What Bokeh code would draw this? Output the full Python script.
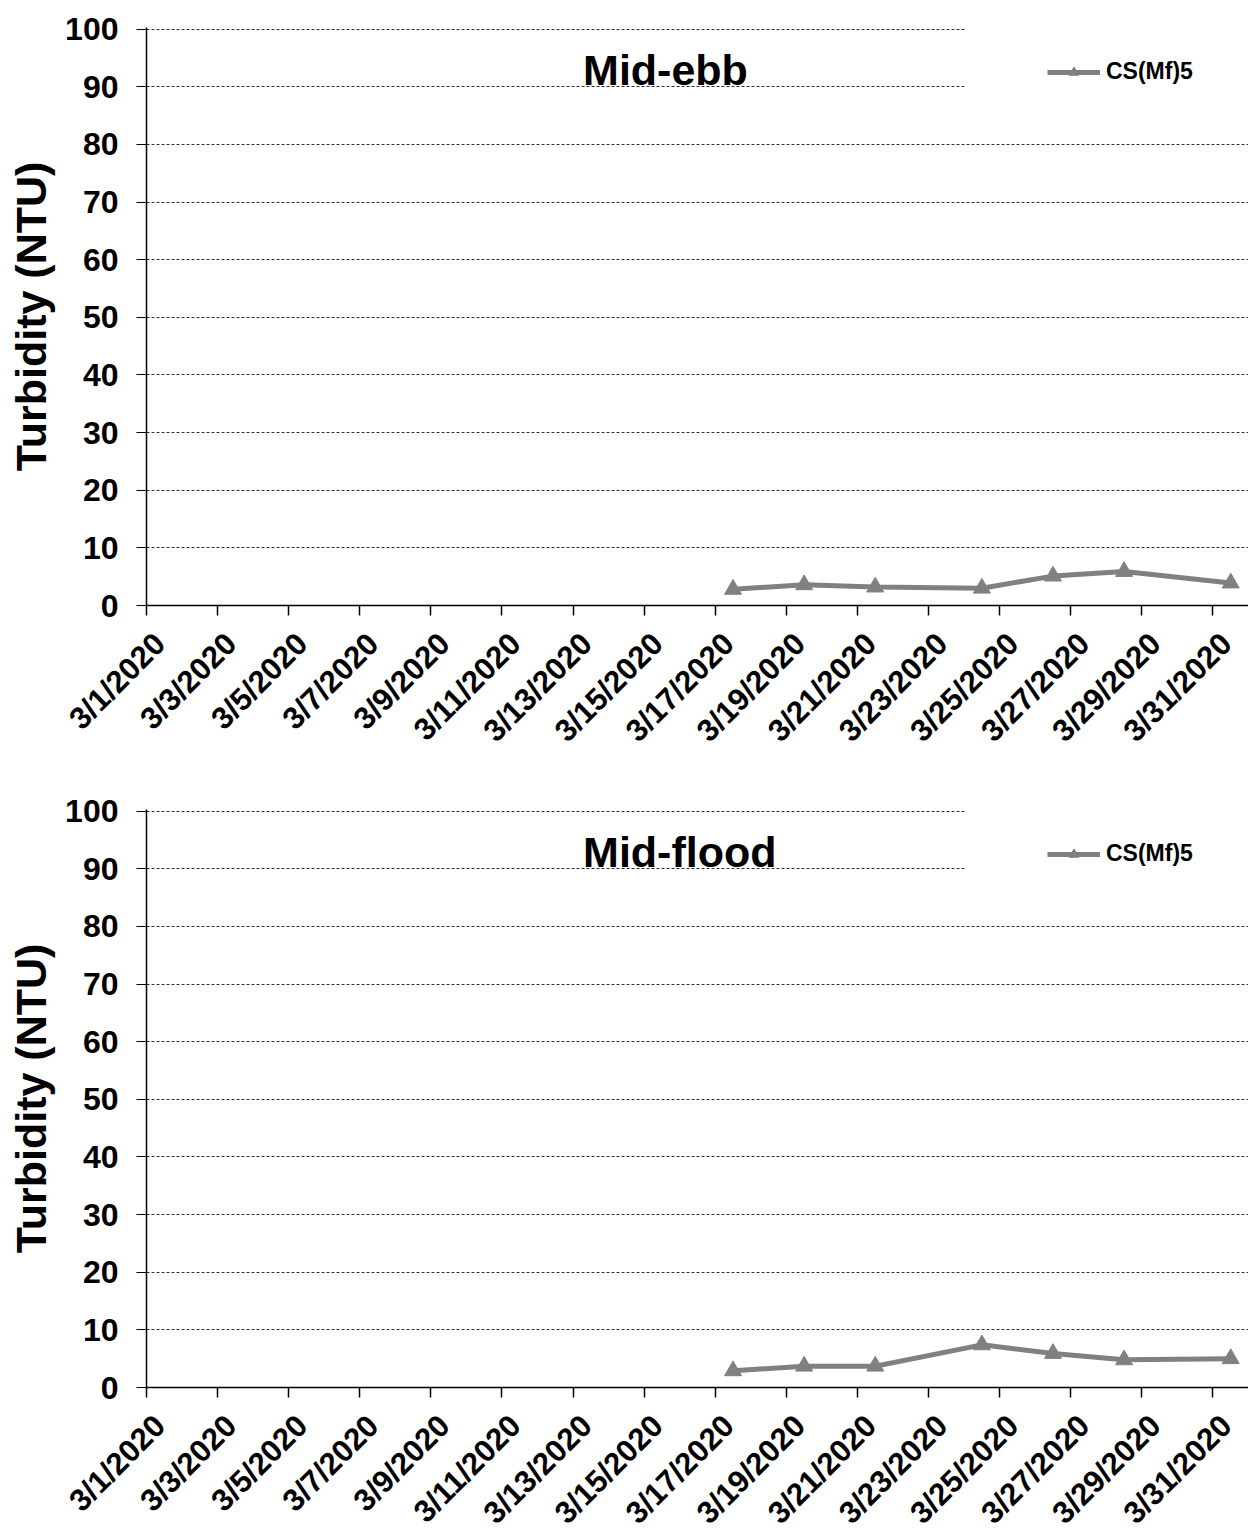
import pandas as pd
from math import pi
from bokeh.plotting import figure
from bokeh.layouts import column
from bokeh.models import (Legend, LegendItem, FixedTicker, DatetimeTickFormatter,
                          Range1d, BoxAnnotation, Label)
from bokeh.embed import file_html
from bokeh.resources import INLINE

# ---------------- data ----------------
sample_times = ["2020-03-17 12:00", "2020-03-19 12:00", "2020-03-21 12:00",
                "2020-03-24 12:00", "2020-03-26 12:00", "2020-03-28 12:00",
                "2020-03-31 12:00"]
mid_ebb = [2.8, 3.6, 3.2, 3.0, 5.1, 5.9, 3.9]
mid_flood = [2.9, 3.7, 3.7, 7.4, 5.9, 4.8, 5.0]
series_name = "CS(Mf)5"
panel_titles = ["Mid-ebb", "Mid-flood"]
tick_dates = ["2020-03-01", "2020-03-03", "2020-03-05", "2020-03-07",
              "2020-03-09", "2020-03-11", "2020-03-13", "2020-03-15",
              "2020-03-17", "2020-03-19", "2020-03-21", "2020-03-23",
              "2020-03-25", "2020-03-27", "2020-03-29", "2020-03-31"]
y_ticks = [0, 10, 20, 30, 40, 50, 60, 70, 80, 90, 100]
y_label = "Turbidity (NTU)"

FONT = "Liberation Sans"
GREY = "#808080"
HOUR = 3600000.0
DAY = 24 * HOUR


def ms(s):
    return pd.Timestamp(s).timestamp() * 1000.0


x_vals = pd.to_datetime(sample_times)
x_start = ms(tick_dates[0])
x_end = ms(tick_dates[-1]) + DAY
fmt = "%-m/%-d/%Y"


def date_formatter():
    return DatetimeTickFormatter(
        microseconds=fmt, milliseconds=fmt, seconds=fmt, minsec=fmt,
        minutes=fmt, hourmin=fmt, hours=fmt, days=fmt, months=fmt, years=fmt)


def make_panel(title, values, bottom_border):
    p = figure(x_axis_type="datetime", frame_width=1102, frame_height=578,
               min_border_left=146, min_border_right=0,
               min_border_top=27, min_border_bottom=bottom_border,
               x_range=Range1d(x_start, x_end), y_range=Range1d(0, 100.3),
               output_backend="svg", toolbar_location=None)
    p.outline_line_color = None
    p.background_fill_color = "white"
    p.border_fill_color = "white"

    # grid
    p.xgrid.visible = False
    p.ygrid.grid_line_color = "#303030"
    p.ygrid.grid_line_dash = "3 2"
    p.ygrid.grid_line_width = 1

    # y axis
    p.yaxis.ticker = FixedTicker(ticks=y_ticks)
    p.yaxis.axis_line_color = "black"
    p.yaxis.axis_line_width = 1.5
    p.yaxis.major_tick_out = 10
    p.yaxis.major_tick_in = 0
    p.yaxis.major_tick_line_color = "black"
    p.yaxis.minor_tick_line_color = None
    p.yaxis.major_label_text_font = FONT
    p.yaxis.major_label_text_font_style = "bold"
    p.yaxis.major_label_text_font_size = "32px"
    p.yaxis.major_label_text_color = "black"
    p.yaxis.major_label_standoff = 18
    p.yaxis.axis_label = y_label
    p.yaxis.axis_label_text_font = FONT
    p.yaxis.axis_label_text_font_style = "bold"
    p.yaxis.axis_label_text_font_size = "43px"
    p.yaxis.axis_label_text_color = "black"
    p.yaxis.axis_label_standoff = 7

    # x axis: tick marks at the dates (minor ticks), slanted date labels
    # anchored a little to the right of each tick mark
    p.xaxis.ticker = FixedTicker(
        ticks=[ms(d) + 9 * HOUR for d in tick_dates],
        minor_ticks=[ms(d) for d in tick_dates])
    p.xaxis.formatter = date_formatter()
    p.xaxis.axis_line_color = "black"
    p.xaxis.axis_line_width = 1.5
    p.xaxis.major_tick_line_color = None
    p.xaxis.major_tick_out = 0
    p.xaxis.major_tick_in = 0
    p.xaxis.minor_tick_line_color = "black"
    p.xaxis.minor_tick_line_width = 1.5
    p.xaxis.minor_tick_out = 10
    p.xaxis.minor_tick_in = 0
    p.xaxis.major_label_orientation = pi / 4
    p.xaxis.major_label_standoff = 23
    p.xaxis.major_label_text_font = FONT
    p.xaxis.major_label_text_font_style = "bold"
    p.xaxis.major_label_text_font_size = "31px"
    p.xaxis.major_label_text_color = "black"

    # data
    r_line = p.line(x_vals, values, line_color=GREY, line_width=5)
    r_pts = p.scatter(x_vals, values, marker="triangle", size=17,
                      fill_color=GREY, line_color=GREY)

    # white legend area hiding the upper gridlines
    box = BoxAnnotation(left=ms("2020-03-24 00:45"), bottom=85,
                        fill_color="white", fill_alpha=1.0, line_alpha=0.0)
    p.add_layout(box)

    # title inside plot
    p.add_layout(Label(x=ms("2020-03-13 06:45"), y=92.9, text=title,
                       text_font=FONT, text_font_style="bold",
                       text_font_size="43px", text_color="black",
                       text_align="left", text_baseline="alphabetic"))

    legend = Legend(items=[LegendItem(label=series_name,
                                      renderers=[r_line, r_pts])],
                    location=(901, 520), glyph_width=53, glyph_height=24,
                    label_height=24, label_standoff=6, padding=0, margin=0,
                    label_text_font=FONT, label_text_font_style="bold",
                    label_text_font_size="23px", label_text_color="black",
                    border_line_alpha=0, background_fill_alpha=0)
    p.add_layout(legend)
    return p


p1 = make_panel(panel_titles[0], mid_ebb, 177)
p2 = make_panel(panel_titles[1], mid_flood, 145)
layout = column(p1, p2, spacing=0)

open("out.html", "w").write(file_html(layout, INLINE))
